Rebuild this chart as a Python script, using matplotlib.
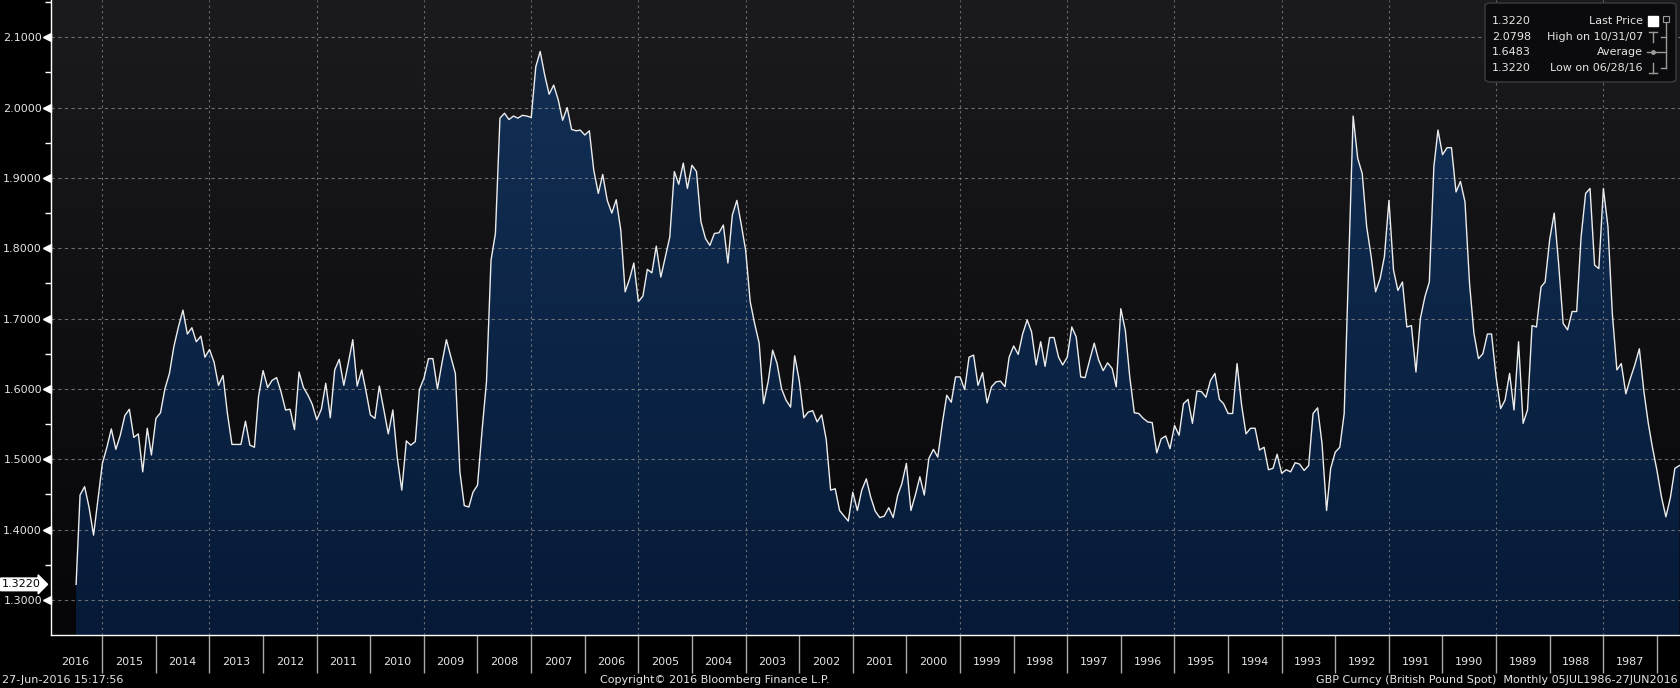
import numpy as np
import pandas as pd
import matplotlib
matplotlib.use("Agg")
import matplotlib.pyplot as plt
import matplotlib.dates as mdates
import matplotlib.transforms as mtransforms
from matplotlib.colors import LinearSegmentedColormap
from matplotlib.patches import FancyBboxPatch, Rectangle

# GBP/USD fin de mois (juil. 1986 -> juin 2016)
gbp_1986_1989 = [1.491, 1.487, 1.446, 1.418, 1.446, 1.484,
                 1.517, 1.551, 1.598, 1.657, 1.634, 1.615, 1.593, 1.636, 1.627, 1.707, 1.831, 1.885,
                 1.771, 1.776, 1.885, 1.878, 1.816, 1.710, 1.710, 1.684, 1.693, 1.778, 1.850, 1.812,
                 1.752, 1.745, 1.688, 1.690, 1.570, 1.551, 1.667, 1.570, 1.622, 1.584, 1.572, 1.617]
gbp_1990s = [1.678, 1.678, 1.650, 1.643, 1.679, 1.750, 1.866, 1.895, 1.880, 1.943, 1.943, 1.933,
             1.968, 1.916, 1.752, 1.731, 1.700, 1.624, 1.690, 1.688, 1.752, 1.740, 1.769, 1.868,
             1.788, 1.757, 1.738, 1.788, 1.831, 1.906, 1.928, 1.988, 1.778, 1.565, 1.517, 1.510,
             1.487, 1.427, 1.522, 1.573, 1.565, 1.491, 1.484, 1.493, 1.495, 1.482, 1.485, 1.480,
             1.507, 1.487, 1.485, 1.517, 1.513, 1.544, 1.544, 1.536, 1.577, 1.636, 1.565, 1.565,
             1.579, 1.585, 1.622, 1.612, 1.588, 1.596, 1.597, 1.551, 1.585, 1.579, 1.534, 1.548,
             1.515, 1.533, 1.529, 1.509, 1.552, 1.553, 1.558, 1.565, 1.566, 1.617, 1.683, 1.714,
             1.603, 1.629, 1.637, 1.626, 1.641, 1.665, 1.641, 1.616, 1.617, 1.674, 1.688, 1.645,
             1.634, 1.645, 1.673, 1.673, 1.632, 1.667, 1.634, 1.681, 1.698, 1.678, 1.649, 1.661,
             1.645, 1.603, 1.611, 1.610, 1.603, 1.580, 1.623, 1.605, 1.648, 1.645, 1.599, 1.617]
gbp_2000s = [1.617, 1.581, 1.591, 1.551, 1.503, 1.514, 1.501, 1.449, 1.475, 1.449, 1.427, 1.494,
             1.465, 1.449, 1.417, 1.431, 1.419, 1.417, 1.426, 1.446, 1.472, 1.456, 1.427, 1.453,
             1.412, 1.419, 1.427, 1.458, 1.456, 1.528, 1.563, 1.553, 1.569, 1.567, 1.559, 1.612,
             1.647, 1.574, 1.584, 1.600, 1.636, 1.655, 1.610, 1.579, 1.665, 1.693, 1.724, 1.797,
             1.835, 1.868, 1.847, 1.779, 1.833, 1.822, 1.821, 1.804, 1.814, 1.838, 1.909, 1.918,
             1.885, 1.921, 1.891, 1.909, 1.816, 1.788, 1.759, 1.803, 1.765, 1.770, 1.732, 1.724,
             1.779, 1.757, 1.738, 1.826, 1.869, 1.850, 1.868, 1.905, 1.878, 1.911, 1.967, 1.961,
             1.968, 1.967, 1.969, 2.000, 1.982, 2.011, 2.032, 2.019, 2.046, 2.0798, 2.058, 1.986,
             1.988, 1.989, 1.985, 1.988, 1.983, 1.992, 1.985, 1.821, 1.783, 1.610, 1.541, 1.463,
             1.453, 1.432, 1.434, 1.482, 1.622, 1.645, 1.670, 1.636, 1.600, 1.643, 1.643, 1.615]
gbp_2010s = [1.599, 1.525, 1.520, 1.526, 1.456, 1.501, 1.570, 1.536, 1.570, 1.604, 1.558, 1.563,
             1.598, 1.627, 1.604, 1.670, 1.636, 1.605, 1.642, 1.627, 1.559, 1.608, 1.571, 1.556,
             1.578, 1.591, 1.602, 1.624, 1.542, 1.571, 1.570, 1.596, 1.616, 1.612, 1.602, 1.626,
             1.589, 1.517, 1.520, 1.554, 1.521, 1.521, 1.521, 1.565, 1.619, 1.605, 1.638, 1.656,
             1.645, 1.675, 1.667, 1.687, 1.678, 1.712, 1.688, 1.660, 1.622, 1.600, 1.566, 1.558,
             1.506, 1.544, 1.482, 1.536, 1.531, 1.571, 1.562, 1.534, 1.514, 1.543, 1.517, 1.494,
             1.441, 1.392, 1.432, 1.461, 1.449, 1.322]

values = np.array(gbp_1986_1989 + gbp_1990s + gbp_2000s + gbp_2010s)
dates = pd.date_range("1986-07-31", periods=len(values), freq="ME")
dates = dates[:-1].append(pd.DatetimeIndex(["2016-06-27"]))
x = mdates.date2num(dates)

y_ticks = [1.3, 1.4, 1.5, 1.6, 1.7, 1.8, 1.9, 2.0, 2.1]
years = list(range(1987, 2017))
legend_labels = ["Last Price", "High on 10/31/07", "Average", "Low on 06/28/16"]
legend_values = ["1.3220", "2.0798", "1.6483", "1.3220"]
last_price = 1.3220

W, H = 1680, 688
txt = "#e4e4e4"

fig = plt.figure(figsize=(16.8, 6.88), dpi=100, facecolor="black")
ax = fig.add_axes([51 / W, 53 / H, 1 - 51 / W, 635 / H])
ax.set_facecolor("black")

x_left = mdates.date2num(pd.Timestamp("2016-12-15"))
x_right = mdates.date2num(pd.Timestamp("1986-07-27"))
ax.set_xlim(x_left, x_right)
ax.set_ylim(1.25, 2.153)

# fond en degrade
bg = LinearSegmentedColormap.from_list("bg", ["#060609", "#1b1b1d"])
ax.imshow(np.linspace(0, 1, 256).reshape(-1, 1), cmap=bg, aspect="auto",
          extent=[0, 1, 0, 1], transform=ax.transAxes, origin="lower", zorder=0)

# remplissage bleu sous la courbe
poly = ax.fill_between(x, values, 1.25, facecolor="none", edgecolor="none", zorder=1)
fillmap = LinearSegmentedColormap.from_list("fill", ["#061a37", "#133157"])
img = ax.imshow(np.linspace(0, 1, 256).reshape(-1, 1), cmap=fillmap, aspect="auto",
                extent=[0, 1, 0, 1], transform=ax.transAxes, origin="lower", zorder=1)
path = poly.get_paths()[0]
img.set_clip_path(path, transform=ax.transData)

# grille
for v in y_ticks:
    ax.axhline(v, color="#8c8c8c", lw=0.8, ls=(0, (3, 3)), alpha=0.75, zorder=3)
for yr in range(1988, 2017, 2):
    ax.axvline(mdates.date2num(pd.Timestamp(f"{yr}-01-01")), color="#8c8c8c",
               lw=0.8, ls=(0, (2, 3)), alpha=0.75, zorder=3)

ax.plot(x, values, color="#ececec", lw=1.0, zorder=4)

# axes
for s in ["top", "right"]:
    ax.spines[s].set_visible(False)
for s in ["left", "bottom"]:
    ax.spines[s].set_color("white")
    ax.spines[s].set_linewidth(1.0)
    ax.spines[s].set_zorder(5)

ax.set_yticks(y_ticks)
ax.set_yticklabels([f"{v:.4f}" for v in y_ticks])
ax.set_yticks(np.arange(1.35, 2.16, 0.1), minor=True)
ax.tick_params(axis="y", which="major", length=0, pad=6.5, labelsize=8, labelcolor=txt)
ax.tick_params(axis="y", which="minor", length=4, color="white", width=1)

tr = mtransforms.blended_transform_factory(ax.transAxes, ax.transData)
ax.plot([-0.0025] * len(y_ticks), y_ticks, ls="none", marker="<", ms=5.5,
        color="white", transform=tr, clip_on=False, zorder=6)

# etiquettes des annees et separateurs
mid_years = [mdates.date2num(pd.Timestamp(f"{yr}-07-02")) for yr in years]
ax.set_xticks(mid_years)
ax.set_xticklabels([str(yr) for yr in years])
ax.set_xticks([mdates.date2num(pd.Timestamp(f"{yr}-01-01")) for yr in years], minor=True)
ax.tick_params(axis="x", which="major", length=0, pad=16, labelsize=8, labelcolor=txt)
ax.tick_params(axis="x", which="minor", length=27, color="#a8a8a8", width=1, direction="out")

# etiquette du dernier prix
ax.text(-0.0062, last_price, "1.3220", transform=tr, ha="right", va="center",
        fontsize=8, color="black", zorder=7, clip_on=False,
        bbox=dict(boxstyle="rarrow,pad=0.12", fc="white", ec="white"))

# legende
def fx(px):
    return px / W

def fy(py):
    return 1 - py / H

fig.patches.append(FancyBboxPatch((fx(1485), fy(82)), fx(191), 79 / H,
                                  boxstyle="round,pad=0,rounding_size=0.004",
                                  transform=fig.transFigure, fc="#0b0b0d",
                                  ec="#3c3c3c", lw=1, zorder=10))
rows = [21, 37, 52, 68]
for r, lab, val in zip(rows, legend_labels, legend_values):
    fig.text(fx(1492), fy(r), val, ha="left", va="center", fontsize=8, color=txt, zorder=11)
    fig.text(fx(1643), fy(r), lab, ha="right", va="center", fontsize=8, color=txt, zorder=11)

fig.patches.append(Rectangle((fx(1648), fy(26)), fx(10), 10 / H, transform=fig.transFigure,
                             fc="white", ec="white", zorder=11))
gray = "#9a9a9a"
icon = dict(color=gray, lw=1, transform=fig.transFigure, zorder=11)
fig.lines.append(plt.Line2D([fx(1653), fx(1653)], [fy(32), fy(42)], **icon))
fig.lines.append(plt.Line2D([fx(1649), fx(1657)], [fy(32), fy(32)], **icon))
fig.lines.append(plt.Line2D([fx(1647), fx(1660)], [fy(52), fy(52)], **icon))
fig.lines.append(plt.Line2D([fx(1653)], [fy(52)], marker="o", ms=2.5, ls="none", **icon))
fig.lines.append(plt.Line2D([fx(1653), fx(1653)], [fy(63), fy(73)], **icon))
fig.lines.append(plt.Line2D([fx(1649), fx(1657)], [fy(73), fy(73)], **icon))
fig.lines.append(plt.Line2D([fx(1666), fx(1666)], [fy(22), fy(68)], **icon))
for r in rows[1:]:
    fig.lines.append(plt.Line2D([fx(1661), fx(1666)], [fy(r), fy(r)], **icon))
fig.patches.append(Rectangle((fx(1663), fy(22)), fx(6), 6 / H, transform=fig.transFigure,
                             fc="#0b0b0d", ec=gray, lw=0.8, zorder=11))
fig.lines.append(plt.Line2D([fx(1664), fx(1668)], [fy(19), fy(19)], **icon))

# pied de page
fig.text(fx(2), fy(680), "27-Jun-2016 15:17:56", ha="left", va="center", fontsize=8, color=txt)
fig.text(fx(715), fy(680), "Copyright\u00a9 2016 Bloomberg Finance L.P.", ha="center",
         va="center", fontsize=8, color=txt)
fig.text(fx(1678), fy(680), "GBP Curncy (British Pound Spot)  Monthly 05JUL1986-27JUN2016",
         ha="right", va="center", fontsize=8, color=txt)

fig.savefig("out.png", dpi=100, facecolor="black")
